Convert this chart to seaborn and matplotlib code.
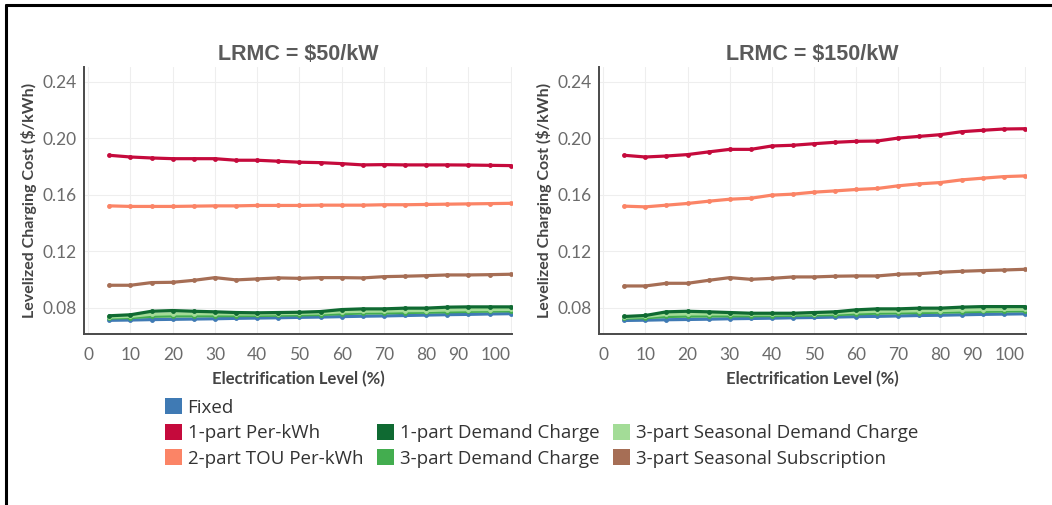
import matplotlib
matplotlib.use("Agg")
import matplotlib.pyplot as plt
from matplotlib.patches import Patch
from matplotlib.lines import Line2D
from matplotlib.font_manager import FontProperties
import seaborn as sns
import pandas as pd

# ---------------- data ----------------
levels = [5, 10, 15, 20, 25, 30, 35, 40, 45, 50, 55, 60, 65, 70, 75, 80, 85, 90, 95, 100]

series_names = ["Fixed", "1-part Per-kWh", "2-part TOU Per-kWh",
                "1-part Demand Charge", "3-part Demand Charge",
                "3-part Seasonal Demand Charge", "3-part Seasonal Subscription"]

# LRMC = $50/kW
fixed_50 = [0.0712, 0.0714, 0.0717, 0.0719, 0.0721, 0.0723, 0.0726, 0.0728, 0.0730, 0.0733, 0.0735, 0.0738, 0.0741, 0.0743, 0.0746, 0.0749, 0.0752, 0.0754, 0.0757, 0.0759]
per_kwh_50 = [0.1880, 0.1868, 0.1861, 0.1856, 0.1856, 0.1856, 0.1845, 0.1845, 0.1838, 0.1831, 0.1828, 0.1821, 0.1812, 0.1814, 0.1812, 0.1812, 0.1812, 0.1811, 0.1809, 0.1807]
tou_50 = [0.1522, 0.1518, 0.1518, 0.1518, 0.1520, 0.1522, 0.1522, 0.1525, 0.1525, 0.1525, 0.1527, 0.1527, 0.1527, 0.1530, 0.1530, 0.1532, 0.1534, 0.1536, 0.1538, 0.1540]
dc1_50 = [0.0744, 0.0751, 0.0776, 0.0781, 0.0776, 0.0772, 0.0767, 0.0765, 0.0767, 0.0769, 0.0774, 0.0788, 0.0793, 0.0793, 0.0798, 0.0798, 0.0805, 0.0807, 0.0807, 0.0807]
dc3_50 = [0.0728, 0.0731, 0.0740, 0.0742, 0.0743, 0.0744, 0.0745, 0.0746, 0.0748, 0.0750, 0.0753, 0.0759, 0.0763, 0.0764, 0.0767, 0.0769, 0.0772, 0.0775, 0.0777, 0.0779]
sdc_50 = [0.0735, 0.0740, 0.0755, 0.0758, 0.0758, 0.0758, 0.0757, 0.0757, 0.0759, 0.0761, 0.0764, 0.0772, 0.0776, 0.0777, 0.0780, 0.0781, 0.0785, 0.0787, 0.0788, 0.0789]
sub_50 = [0.0960, 0.0960, 0.0979, 0.0981, 0.0995, 0.1014, 0.0998, 0.1005, 0.1012, 0.1009, 0.1014, 0.1014, 0.1012, 0.1021, 0.1024, 0.1028, 0.1033, 0.1033, 0.1035, 0.1038]

# LRMC = $150/kW
fixed_150 = [0.0711, 0.0713, 0.0716, 0.0718, 0.0720, 0.0723, 0.0725, 0.0727, 0.0730, 0.0732, 0.0735, 0.0738, 0.0740, 0.0743, 0.0746, 0.0748, 0.0751, 0.0754, 0.0756, 0.0758]
per_kwh_150 = [0.1880, 0.1868, 0.1875, 0.1885, 0.1904, 0.1922, 0.1922, 0.1946, 0.1951, 0.1962, 0.1972, 0.1979, 0.1981, 0.2002, 0.2014, 0.2026, 0.2047, 0.2057, 0.2066, 0.2068]
tou_150 = [0.1520, 0.1515, 0.1527, 0.1539, 0.1555, 0.1569, 0.1576, 0.1598, 0.1605, 0.1619, 0.1628, 0.1638, 0.1645, 0.1664, 0.1678, 0.1687, 0.1706, 0.1718, 0.1729, 0.1734]
dc1_150 = [0.0739, 0.0746, 0.0772, 0.0776, 0.0772, 0.0767, 0.0762, 0.0762, 0.0762, 0.0767, 0.0772, 0.0786, 0.0793, 0.0793, 0.0798, 0.0798, 0.0805, 0.0809, 0.0809, 0.0809]
dc3_150 = [0.0727, 0.0730, 0.0739, 0.0741, 0.0742, 0.0743, 0.0744, 0.0745, 0.0747, 0.0749, 0.0752, 0.0758, 0.0762, 0.0764, 0.0767, 0.0769, 0.0772, 0.0775, 0.0777, 0.0779]
sdc_150 = [0.0734, 0.0739, 0.0754, 0.0757, 0.0757, 0.0757, 0.0756, 0.0756, 0.0758, 0.0760, 0.0763, 0.0771, 0.0776, 0.0777, 0.0780, 0.0781, 0.0785, 0.0788, 0.0789, 0.0790]
sub_150 = [0.0955, 0.0955, 0.0974, 0.0974, 0.0995, 0.1014, 0.1002, 0.1009, 0.1019, 0.1019, 0.1024, 0.1026, 0.1026, 0.1038, 0.1042, 0.1052, 0.1059, 0.1064, 0.1068, 0.1073]

panel_titles = ["LRMC = $50/kW", "LRMC = $150/kW"]
x_ticks = [0, 10, 20, 30, 40, 50, 60, 70, 80, 90, 100]
y_ticks = [0.08, 0.12, 0.16, 0.20, 0.24]
y_tick_labels = ["0.08", "0.12", "0.16", "0.20", "0.24"]

colors = {
    "Fixed": "#3f7ab4",
    "1-part Per-kWh": "#c50a3c",
    "2-part TOU Per-kWh": "#fb8466",
    "1-part Demand Charge": "#0f6a32",
    "3-part Demand Charge": "#43ad4f",
    "3-part Seasonal Demand Charge": "#a3dc97",
    "3-part Seasonal Subscription": "#a66e55",
}
draw_order = ["Fixed", "3-part Demand Charge", "3-part Seasonal Demand Charge",
              "1-part Demand Charge", "3-part Seasonal Subscription",
              "2-part TOU Per-kWh", "1-part Per-kWh"]

panel_data = [
    {"Fixed": fixed_50, "1-part Per-kWh": per_kwh_50, "2-part TOU Per-kWh": tou_50,
     "1-part Demand Charge": dc1_50, "3-part Demand Charge": dc3_50,
     "3-part Seasonal Demand Charge": sdc_50, "3-part Seasonal Subscription": sub_50},
    {"Fixed": fixed_150, "1-part Per-kWh": per_kwh_150, "2-part TOU Per-kWh": tou_150,
     "1-part Demand Charge": dc1_150, "3-part Demand Charge": dc3_150,
     "3-part Seasonal Demand Charge": sdc_150, "3-part Seasonal Subscription": sub_150},
]

# ---------------- figure ----------------
sns.set_theme(style="white")
plt.rcParams['font.family'] = ['Lato', 'DejaVu Sans']

W, H = 1052, 505
fig = plt.figure(figsize=(W / 100, H / 100), dpi=100)
fig.patch.set_facecolor("white")

axes_px = [(84, 512), (599, 1026)]
top_px, bot_px = 67, 334

for i, (x0, x1) in enumerate(axes_px):
    ax = fig.add_axes([x0 / W, 1 - bot_px / H, (x1 - x0) / W, (bot_px - top_px) / H])
    rows = []
    for name in draw_order:
        for lv, val in zip(levels, panel_data[i][name]):
            rows.append({"level": lv, "cost": val, "series": name})
    df = pd.DataFrame(rows)
    sns.lineplot(data=df, x="level", y="cost", hue="series", hue_order=draw_order,
                 palette=colors, marker="o", markersize=3.5, markeredgewidth=0,
                 linewidth=2.3, legend=False, ax=ax)
    ax.set_xlim(-1, 100.3)
    ax.set_ylim(0.0615, 0.2505)
    ax.set_xticks(x_ticks)
    ax.set_xticklabels([str(t) for t in x_ticks])
    ax.set_yticks(y_ticks)
    ax.set_yticklabels(y_tick_labels)
    for lbl in ax.get_xticklabels():
        if lbl.get_text() == "100":
            lbl.set_ha("right")
        if lbl.get_text() == "90":
            lbl.set_ha("right")
            lbl.set_x(91.5)
    ax.tick_params(axis="both", length=0, labelsize=12.5, colors="#6b6b6b")
    ax.tick_params(axis="x", pad=9)
    ax.tick_params(axis="y", pad=5)
    ax.grid(True, color="#eeeeee", linewidth=0.8)
    ax.set_axisbelow(True)
    for s in ["top", "right"]:
        ax.spines[s].set_visible(False)
    for s in ["left", "bottom"]:
        ax.spines[s].set_color("#4a4a4a")
        ax.spines[s].set_linewidth(1.4)
    ax.set_xlabel("Electrification Level (%)", fontsize=12, fontweight="bold",
                  color="#444444", labelpad=6)
    ax.set_ylabel("Levelized Charging Cost ($/kWh)", fontsize=11.5, fontweight="bold",
                  color="#444444", labelpad=4)
    ax.set_title(panel_titles[i], fontsize=15.5, fontweight="bold", color="#5a5a5a",
                 family=["Liberation Sans", "DejaVu Sans"], pad=5)

# legend
legend_order = ["Fixed", "1-part Per-kWh", "2-part TOU Per-kWh",
                None, "1-part Demand Charge", "3-part Demand Charge",
                None, "3-part Seasonal Demand Charge", "3-part Seasonal Subscription"]
handles, labels = [], []
for name in legend_order:
    if name is None:
        handles.append(Patch(facecolor="none", edgecolor="none"))
        labels.append("")
    else:
        handles.append(Patch(facecolor=colors[name], edgecolor="none"))
        labels.append(name)
leg_font = FontProperties(family=["Open Sans", "DejaVu Sans"], size=13.5)
fig.legend(handles, labels, ncol=3, loc="upper left",
           bbox_to_anchor=(165 / W, 1 - 398 / H), frameon=False,
           prop=leg_font, handlelength=0.9, handleheight=0.95, handletextpad=0.3,
           labelspacing=0.38, columnspacing=0.75, borderpad=0, borderaxespad=0,
           labelcolor="#333333")

# frame lines (top and left)
fig.add_artist(Line2D([6 / W, 6 / W], [0, 1 - 5 / H], transform=fig.transFigure,
                      color="black", linewidth=2.2))
fig.add_artist(Line2D([6 / W, 1], [1 - 5 / H, 1 - 5 / H], transform=fig.transFigure,
                      color="black", linewidth=2.2))

fig.savefig("out.png", dpi=100)
